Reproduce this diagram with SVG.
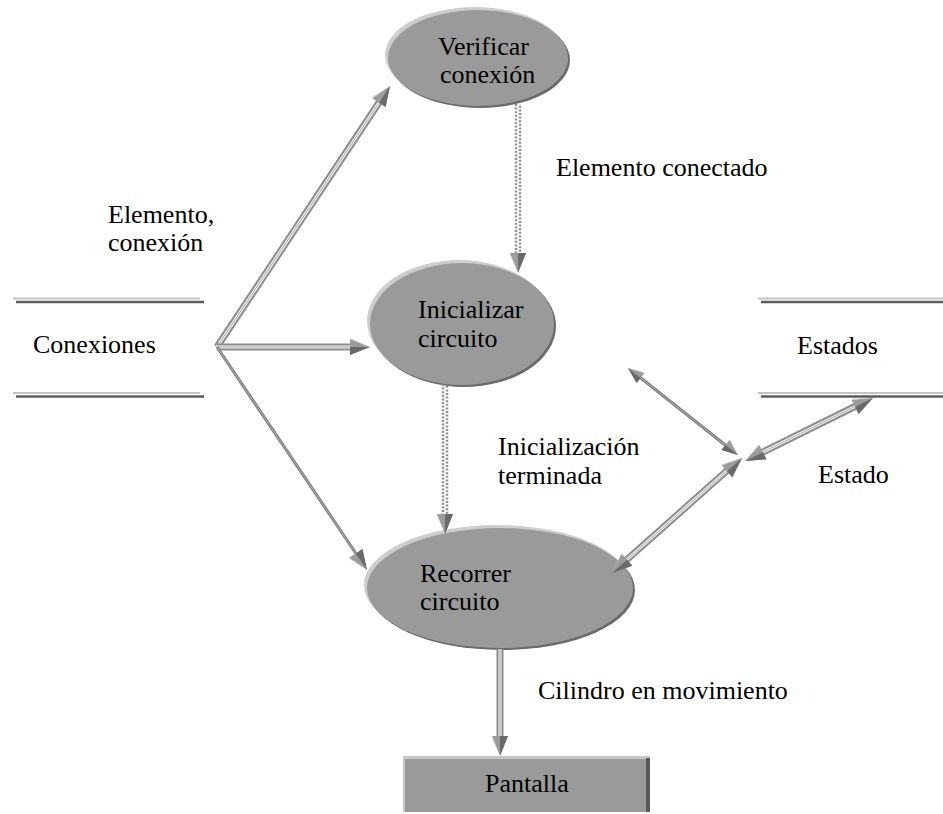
<svg xmlns="http://www.w3.org/2000/svg" xmlns:xlink="http://www.w3.org/1999/xlink" width="943" height="814" viewBox="0 0 943 814">
  <style>
    text { font-family: "Liberation Serif", "Times New Roman", serif; font-size: 26px; fill: #000; }
    .rimL { fill: #cdcdcd; }
    .rimD { fill: #6a6a6a; }
    .face { fill: #9a9a9a; }
    .t1 { fill: none; stroke: #8c8c8c; stroke-width: 7; }
    .t2 { fill: none; stroke: #f4f4f4; stroke-width: 3; }
    .t3 { fill: none; stroke: #a8a8a8; stroke-width: 1; }
    .thin { fill: none; stroke: #7a7a7a; stroke-width: 3; }
    .thinHi { fill: none; stroke: #b2b2b2; stroke-width: 1; }
    .dot { fill: none; stroke: #8e8e8e; stroke-width: 2.5; stroke-dasharray: 2 1.6; }
    .storeHi { stroke: #c4c4c4; stroke-width: 2; }
    .storeLo { stroke: #5c5c5c; stroke-width: 2.5; }
  </style>
  <defs>
    <!-- arrowhead, tip at origin pointing +x; shaded half on +y -->
    <g id="hA">
      <path d="M0,0 L-20,-8 L-20,8 Z" fill="#9c9c9c"/>
      <path d="M0,0 L-20,0 L-20,8 Z" fill="#6a6a6a"/>
      <path d="M0,0 L-20,-8 L-18,-8 Z" fill="#c4c4c4"/>
    </g>
    <!-- same arrowhead, shaded half on -y -->
    <g id="hB">
      <path d="M0,0 L-20,-8 L-20,8 Z" fill="#9c9c9c"/>
      <path d="M0,0 L-20,0 L-20,-8 Z" fill="#6a6a6a"/>
      <path d="M0,0 L-20,8 L-18,8 Z" fill="#c4c4c4"/>
    </g>
  </defs>

  <rect width="943" height="814" fill="#fff"/>

  <!-- data store: Conexiones -->
  <g id="store-conexiones">
    <line class="storeHi" x1="13" y1="298.5" x2="200" y2="298.5"/>
    <line class="storeLo" x1="16" y1="302" x2="204" y2="302"/>
    <line class="storeHi" x1="13" y1="393" x2="200" y2="393"/>
    <line class="storeLo" x1="16" y1="396.5" x2="204" y2="396.5"/>
    <text x="33" y="353">Conexiones</text>
  </g>

  <!-- data store: Estados -->
  <g id="store-estados">
    <line class="storeHi" x1="758" y1="298.5" x2="943" y2="298.5"/>
    <line class="storeLo" x1="761" y1="302" x2="943" y2="302"/>
    <line class="storeHi" x1="758" y1="393" x2="943" y2="393"/>
    <line class="storeLo" x1="761" y1="396.5" x2="943" y2="396.5"/>
    <text x="797" y="354">Estados</text>
  </g>

  <!-- process: Verificar conexión -->
  <g id="proc-verificar">
    <ellipse class="rimL" cx="475" cy="55" rx="90" ry="48"/>
    <ellipse class="rimD" cx="480" cy="60" rx="90" ry="48"/>
    <ellipse class="face" cx="478" cy="58" rx="90" ry="48"/>
    <text x="438" y="55">Verificar</text>
    <text x="440" y="83">conexión</text>
  </g>

  <!-- process: Inicializar circuito -->
  <g id="proc-inicializar">
    <ellipse class="rimL" cx="459" cy="321" rx="92" ry="61"/>
    <ellipse class="rimD" cx="464" cy="326" rx="92" ry="61"/>
    <ellipse class="face" cx="462" cy="324" rx="92" ry="61"/>
    <text x="418" y="318">Inicializar</text>
    <text x="418" y="347">circuito</text>
  </g>

  <!-- process: Recorrer circuito -->
  <g id="proc-recorrer">
    <ellipse class="rimL" cx="497" cy="585" rx="133" ry="60"/>
    <ellipse class="rimD" cx="502" cy="590" rx="133" ry="60"/>
    <ellipse class="face" cx="500" cy="588" rx="133" ry="60"/>
    <text x="420" y="582">Recorrer</text>
    <text x="420" y="610">circuito</text>
  </g>

  <!-- external entity: Pantalla -->
  <g id="ext-pantalla">
    <rect x="403" y="756" width="247" height="56" fill="#c6c6c6"/>
    <rect x="646" y="758" width="4" height="54" fill="#5a5a5a"/>
    <rect x="405" y="759" width="241" height="53" class="face"/>
    <text x="485" y="792">Pantalla</text>
  </g>

  <!-- flows -->
  <g id="connectors">
    <!-- Conexiones -> Verificar conexión -->
    <path class="t1" d="M217,347 L382,98"/>
    <path class="t2" d="M217,347 L382,98"/>
    <path class="t3" d="M217,347 L382,98"/>
    <use xlink:href="#hA" transform="translate(390,86) rotate(-56.5)"/>

    <!-- Conexiones -> Inicializar circuito -->
    <path class="t1" d="M217,347 L356,347"/>
    <path class="t2" d="M217,347 L356,347"/>
    <path class="t3" d="M217,347 L356,347"/>
    <use xlink:href="#hA" transform="translate(370,347)"/>

    <!-- Conexiones -> Recorrer circuito -->
    <path class="thin" d="M217,347 L359,558"/>
    <path class="thinHi" d="M217,347 L359,558"/>
    <use xlink:href="#hB" transform="translate(367,570) rotate(56.1)"/>

    <!-- Verificar -> Inicializar (Elemento conectado) -->
    <path class="dot" d="M516,104 L516,260"/>
    <path class="dot" d="M520,104 L520,260" stroke-dashoffset="1.8"/>
    <use xlink:href="#hB" transform="translate(518,273) rotate(90)"/>

    <!-- Inicializar -> Recorrer (Inicialización terminada) -->
    <path class="dot" d="M443,384 L443,520"/>
    <path class="dot" d="M447,384 L447,520" stroke-dashoffset="1.8"/>
    <use xlink:href="#hB" transform="translate(445,534) rotate(90)"/>

    <!-- Inicializar <-> Estado junction -->
    <path class="thin" d="M637,375 L729,448"/>
    <path class="thinHi" d="M637,375 L729,448"/>
    <use xlink:href="#hB" transform="translate(628,368) rotate(218.3) scale(0.8)"/>
    <use xlink:href="#hA" transform="translate(738,455) rotate(38.3) scale(0.8)"/>

    <!-- junction <-> Estados -->
    <path class="t1" d="M757,455 L860,404"/>
    <path class="t2" d="M757,455 L860,404"/>
    <path class="t3" d="M757,455 L860,404"/>
    <use xlink:href="#hA" transform="translate(873,398) rotate(-26.2)"/>
    <use xlink:href="#hB" transform="translate(745,461) rotate(153.8)"/>

    <!-- junction <-> Recorrer circuito -->
    <path class="t1" d="M622,564 L731,467"/>
    <path class="t2" d="M622,564 L731,467"/>
    <path class="t3" d="M622,564 L731,467"/>
    <use xlink:href="#hA" transform="translate(742,458) rotate(-41.5)"/>
    <use xlink:href="#hB" transform="translate(612,573) rotate(138.5)"/>

    <!-- Recorrer -> Pantalla -->
    <path class="t1" d="M500,649 L500,742"/>
    <path class="t2" d="M500,649 L500,742"/>
    <path class="t3" d="M500,649 L500,742"/>
    <use xlink:href="#hB" transform="translate(500,756) rotate(90)"/>
  </g>

  <!-- flow labels -->
  <g id="labels">
    <text x="556" y="176">Elemento conectado</text>
    <text x="108" y="223">Elemento,</text>
    <text x="108" y="251">conexión</text>
    <text x="498" y="455">Inicialización</text>
    <text x="498" y="484">terminada</text>
    <text x="818" y="483">Estado</text>
    <text x="538" y="699">Cilindro en movimiento</text>
  </g>
</svg>
